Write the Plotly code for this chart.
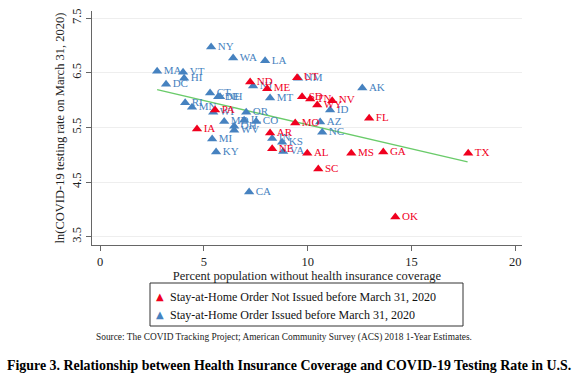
import plotly.graph_objects as go

# Stay-at-Home Order NOT issued before March 31, 2020 (red)
red_states = ["ND", "ME", "UT", "SD", "TN", "WY", "NV", "FL", "MO", "PA", "IA",
              "AR", "NE", "AL", "SC", "MS", "GA", "TX", "OK"]
red_uninsured = [7.23, 8.05, 9.49, 9.73, 10.12, 10.46, 11.18, 12.96, 9.40, 5.54, 4.67,
                 8.19, 8.29, 9.98, 10.51, 12.10, 13.64, 17.73, 14.22]
red_lntest = [6.33, 6.21, 6.41, 6.06, 6.02, 5.91, 5.99, 5.67, 5.58, 5.82, 5.47,
              5.40, 5.11, 5.03, 4.74, 5.03, 5.05, 5.03, 3.86]

# Stay-at-Home Order issued before March 31, 2020 (blue)
blue_states = ["NY", "WA", "LA", "MA", "VT", "HI", "DC", "CT", "DE", "NH", "RI", "MN",
               "NJ", "MT", "NM", "AK", "ID", "WI", "OR", "MD", "IL", "CO", "OH", "WV",
               "AZ", "NC", "MI", "IN", "KS", "VA", "KY", "CA"]
blue_uninsured = [5.35, 6.41, 7.95, 2.75, 4.00, 4.05, 3.18, 5.30, 5.69, 5.78, 4.10, 4.43,
                  7.37, 8.19, 9.54, 12.63, 11.08, 5.45, 7.04, 5.98, 6.94, 7.52, 6.46, 6.46,
                  10.60, 10.70, 5.40, 8.29, 8.77, 8.82, 5.59, 7.18]
blue_lntest = [6.97, 6.77, 6.72, 6.53, 6.51, 6.40, 6.29, 6.13, 6.06, 6.06, 5.95, 5.87,
               6.26, 6.04, 6.40, 6.22, 5.82, 5.78, 5.78, 5.61, 5.63, 5.61, 5.52, 5.45,
               5.60, 5.41, 5.29, 5.30, 5.23, 5.06, 5.05, 4.32]

# Fitted line end points
fit_x = [2.75, 17.7]
fit_y = [6.19, 4.87]

x_ticks = [0, 5, 10, 15, 20]
y_ticks = [3.5, 4.5, 5.5, 6.5, 7.5]

legend_labels = ["Stay-at-Home Order Not Issued before March 31, 2020",
                 "Stay-at-Home Order Issued before March 31, 2020"]

RED = "#F0001E"
BLUE = "#4682C0"
GREEN = "#6ACB6A"
FONT = "Liberation Serif"

# plot area in pixels (for placing the outside-of-plot texts)
L, R, T, B = 92, 522, 11, 245
W, H = R - L, B - T


def px(xp):
    return (xp - L) / W


def py(yp):
    return (B - yp) / H


fig = go.Figure()

fig.add_trace(go.Scatter(x=fit_x, y=fit_y, mode="lines",
                         line=dict(color=GREEN, width=1.3), showlegend=False,
                         hoverinfo="skip"))

fig.add_trace(go.Scatter(x=blue_uninsured, y=blue_lntest, mode="markers+text",
                         text=blue_states, textposition="middle right",
                         textfont=dict(family=FONT, size=11, color=BLUE),
                         marker=dict(symbol="triangle-up", size=9, color=BLUE),
                         showlegend=False))
fig.add_trace(go.Scatter(x=red_uninsured, y=red_lntest, mode="markers+text",
                         text=red_states, textposition="middle right",
                         textfont=dict(family=FONT, size=11, color=RED),
                         marker=dict(symbol="triangle-up", size=9, color=RED),
                         showlegend=False))

annotations = []
# legend (drawn manually to match the compact box)
for label, color, yp in zip(legend_labels, [RED, BLUE], [297, 315]):
    annotations.append(dict(text="▲", xref="paper", yref="paper", x=px(160), y=py(yp - 1),
                            xanchor="center", yanchor="middle", showarrow=False,
                            font=dict(family="DejaVu Sans", size=10, color=color)))
    annotations.append(dict(text=label, xref="paper", yref="paper", x=px(168), y=py(yp),
                            xanchor="left", yanchor="middle", showarrow=False,
                            font=dict(family=FONT, size=12, color="#111")))

annotations.append(dict(
    text="Source: The COVID Tracking Project; American Community Survey (ACS) 2018 1-Year Estimates.",
    xref="paper", yref="paper", x=px(94), y=py(337),
    xanchor="left", yanchor="middle", showarrow=False,
    font=dict(family=FONT, size=9.4, color="#222")))
annotations.append(dict(
    text="<b>Figure 3. Relationship between Health Insurance Coverage and COVID-19 Testing Rate in U.S.</b>",
    xref="paper", yref="paper", x=px(5), y=py(365),
    xanchor="left", yanchor="middle", showarrow=False,
    font=dict(family=FONT, size=13.9, color="#000")))

fig.update_layout(
    width=581, height=378,
    margin=dict(l=L, r=581 - R, t=T, b=378 - B, autoexpand=False),
    paper_bgcolor="white", plot_bgcolor="white",
    font=dict(family=FONT, size=12, color="#222"),
    showlegend=False,
    shapes=[dict(type="rect", xref="paper", yref="paper",
                 x0=px(150), x1=px(463), y0=py(326), y1=py(283),
                 line=dict(color="#333", width=1), fillcolor="rgba(0,0,0,0)")],
    xaxis=dict(range=[-0.386, 20.32], tickvals=x_ticks, ticktext=[str(v) for v in x_ticks],
               showgrid=False, zeroline=False, showline=True, linecolor="#666", linewidth=1,
               ticks="outside", ticklen=5, tickcolor="#666", automargin=False,
               title=dict(text="Percent population without health insurance coverage",
                          font=dict(family=FONT, size=12.5), standoff=0),
               tickfont=dict(family=FONT, size=12.5)),
    yaxis=dict(range=[3.35, 7.63], tickvals=y_ticks, ticktext=[str(v) for v in y_ticks],
               showgrid=True, gridcolor="#EEEEEE", gridwidth=1, zeroline=False,
               showline=True, linecolor="#666", linewidth=1, automargin=False,
               ticks="outside", ticklen=5, tickcolor="#666", tickangle=-90,
               title=dict(text="ln(COVID-19 testing rate on March 31, 2020)",
                          font=dict(family=FONT, size=12.5), standoff=2),
               tickfont=dict(family=FONT, size=12.5)),
    annotations=annotations,
)

fig.write_html("out.html", config={"displayModeBar": False},
               post_script="document.body.style.margin='0px';document.body.style.overflow='hidden';")
